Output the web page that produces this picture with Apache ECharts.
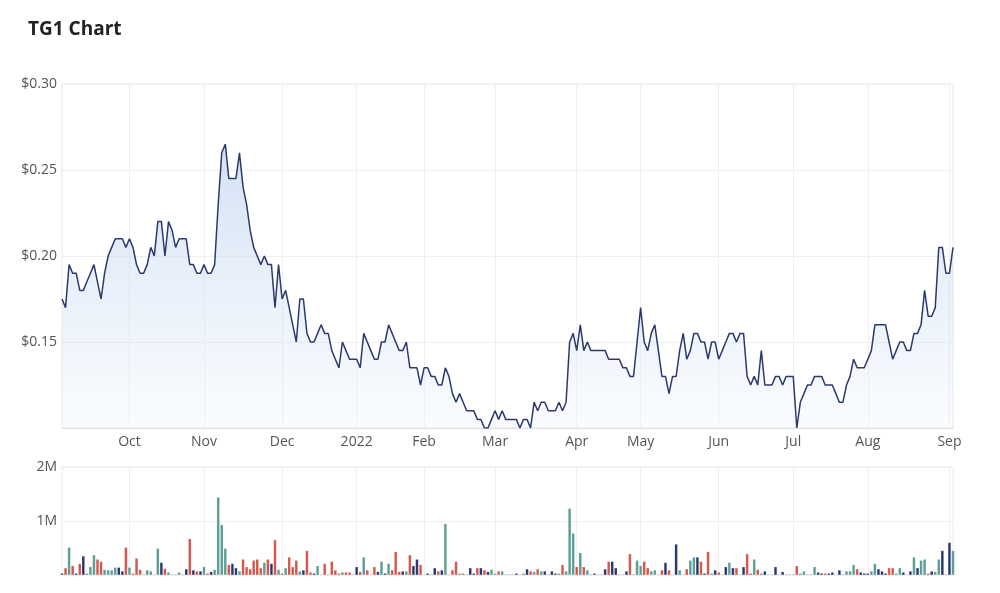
<!DOCTYPE html>
<html>
<head>
<meta charset="utf-8">
<title>TG1 Chart</title>
<script src="https://cdn.jsdelivr.net/npm/echarts@6/dist/echarts.min.js"></script>
<style>
  html, body { margin: 0; padding: 0; background: #fff; }
  #chart { width: 1000px; height: 593px; }
</style>
</head>
<body>
<div id="chart"></div>
<script>
// label for the first trading day of each month ('' = partial first month, no label)
const monthLabels = ['', 'Oct', 'Nov', 'Dec', '2022', 'Feb', 'Mar', 'Apr', 'May', 'Jun', 'Jul', 'Aug', 'Sep'];

// daily closes, one row per month
const closes = [
  [0.175, 0.17, 0.195, 0.19, 0.19, 0.18, 0.18, 0.185, 0.19, 0.195, 0.185, 0.175, 0.19, 0.20, 0.205, 0.21, 0.21, 0.21, 0.205],
  [0.21, 0.205, 0.195, 0.19, 0.19, 0.195, 0.205, 0.20, 0.22, 0.22, 0.20, 0.22, 0.215, 0.205, 0.21, 0.21, 0.21, 0.195, 0.195, 0.19, 0.19],
  [0.195, 0.19, 0.19, 0.195, 0.23, 0.26, 0.265, 0.245, 0.245, 0.245, 0.26, 0.24, 0.23, 0.215, 0.205, 0.20, 0.195, 0.20, 0.195, 0.195, 0.17, 0.195],
  [0.175, 0.18, 0.17, 0.16, 0.15, 0.175, 0.175, 0.155, 0.15, 0.15, 0.155, 0.16, 0.155, 0.155, 0.145, 0.14, 0.135, 0.15, 0.145, 0.14, 0.14],
  [0.14, 0.135, 0.155, 0.15, 0.145, 0.14, 0.14, 0.15, 0.15, 0.16, 0.155, 0.15, 0.145, 0.145, 0.15, 0.135, 0.135, 0.135, 0.125],
  [0.135, 0.135, 0.13, 0.13, 0.125, 0.125, 0.135, 0.13, 0.12, 0.115, 0.12, 0.115, 0.11, 0.11, 0.11, 0.105, 0.105, 0.10, 0.10, 0.105],
  [0.11, 0.105, 0.11, 0.105, 0.105, 0.105, 0.105, 0.10, 0.105, 0.105, 0.10, 0.115, 0.11, 0.115, 0.115, 0.11, 0.11, 0.11, 0.115, 0.11, 0.115, 0.15, 0.155],
  [0.145, 0.16, 0.145, 0.15, 0.145, 0.145, 0.145, 0.145, 0.145, 0.14, 0.14, 0.14, 0.14, 0.135, 0.135, 0.13, 0.13, 0.15],
  [0.17, 0.15, 0.145, 0.155, 0.16, 0.145, 0.13, 0.13, 0.12, 0.13, 0.13, 0.145, 0.155, 0.14, 0.145, 0.155, 0.155, 0.15, 0.15, 0.14, 0.15, 0.15],
  [0.14, 0.145, 0.15, 0.155, 0.155, 0.15, 0.155, 0.155, 0.13, 0.125, 0.13, 0.125, 0.145, 0.125, 0.125, 0.125, 0.13, 0.13, 0.125, 0.13, 0.13],
  [0.13, 0.10, 0.115, 0.12, 0.125, 0.125, 0.13, 0.13, 0.13, 0.125, 0.125, 0.125, 0.12, 0.115, 0.115, 0.125, 0.13, 0.14, 0.135, 0.135, 0.135],
  [0.14, 0.145, 0.16, 0.16, 0.16, 0.16, 0.15, 0.14, 0.145, 0.15, 0.15, 0.145, 0.145, 0.155, 0.155, 0.16, 0.18, 0.165, 0.165, 0.17, 0.205, 0.205, 0.19],
  [0.19, 0.205]
];

// daily volume in millions of shares
const volumes = [
  [0.03, 0.13, 0.51, 0.17, 0.03, 0.21, 0.35, 0.03, 0.15, 0.37, 0.29, 0.25, 0.10, 0.09, 0.09, 0.14, 0.14, 0.07, 0.51],
  [0.14, 0.03, 0.31, 0.10, 0.01, 0.09, 0.07, 0.01, 0.49, 0.23, 0.12, 0.05, 0.01, 0.01, 0.05, 0.01, 0.11, 0.67, 0.09, 0.07, 0.07],
  [0.15, 0.03, 0.06, 0.10, 1.44, 0.93, 0.49, 0.19, 0.21, 0.13, 0.07, 0.29, 0.15, 0.11, 0.27, 0.29, 0.13, 0.23, 0.29, 0.21, 0.65, 0.10],
  [0.03, 0.13, 0.33, 0.15, 0.27, 0.07, 0.09, 0.45, 0.05, 0.03, 0.17, 0.01, 0.21, 0.01, 0.25, 0.09, 0.03, 0.05, 0.05, 0.05, 0.01],
  [0.15, 0.06, 0.33, 0.09, 0.01, 0.15, 0.06, 0.25, 0.03, 0.21, 0.09, 0.43, 0.06, 0.07, 0.07, 0.37, 0.17, 0.29, 0.19],
  [0.01, 0.03, 0.01, 0.13, 0.07, 0.09, 0.95, 0.01, 0.09, 0.25, 0.03, 0.03, 0.01, 0.13, 0.03, 0.13, 0.13, 0.09, 0.06, 0.10],
  [0.03, 0.07, 0.07, 0.01, 0.01, 0.01, 0.03, 0.01, 0.03, 0.11, 0.07, 0.06, 0.11, 0.07, 0.07, 0.01, 0.07, 0.03, 0.03, 0.19, 0.07, 1.23, 0.77],
  [0.15, 0.41, 0.15, 0.09, 0.01, 0.03, 0.01, 0.01, 0.11, 0.25, 0.25, 0.13, 0.01, 0.01, 0.07, 0.39, 0.01, 0.27],
  [0.17, 0.25, 0.13, 0.07, 0.09, 0.01, 0.09, 0.23, 0.09, 0.01, 0.57, 0.09, 0.01, 0.11, 0.27, 0.33, 0.33, 0.25, 0.03, 0.43, 0.03, 0.09],
  [0.05, 0.01, 0.15, 0.23, 0.13, 0.13, 0.01, 0.15, 0.39, 0.03, 0.29, 0.10, 0.03, 0.07, 0.01, 0.01, 0.15, 0.01, 0.06, 0.01, 0.01],
  [0.01, 0.17, 0.03, 0.07, 0.01, 0.01, 0.15, 0.05, 0.03, 0.03, 0.03, 0.05, 0.01, 0.09, 0.01, 0.07, 0.07, 0.19, 0.11, 0.05, 0.03],
  [0.03, 0.07, 0.21, 0.11, 0.07, 0.03, 0.13, 0.13, 0.03, 0.13, 0.05, 0.01, 0.07, 0.33, 0.13, 0.27, 0.29, 0.03, 0.07, 0.06, 0.29, 0.45, 0.01],
  [0.60, 0.45]
];

// bar colour per day: u = up, d = down, n = unchanged
const volumeMoves = [
  'ndudndnuuudduuuunnd',
  'udddnuudundunnunndndn',
  'udnuuuudnnuddddddudndu',
  'dudddunddnuudnddduddn',
  'ndudddnunudddnudnnd',
  'dnnndnudddudnnndndnu',
  'udunnnndundudunnnnuduuu',
  'dudunnnnndnnnnndnu',
  'udduuddndunuuduundndun',
  'dunundunddudunuundnn',
  'nduunnunndnnnnnuuudnn',
  'nuunnndduundnunuudnuunn',
  'nu'
];

const moveColours = { u: '#5b9d93', d: '#d4554a', n: '#27356d' };

const categories = [];
const priceData = [];
const volumeData = [];
monthLabels.forEach((label, m) => {
  closes[m].forEach((p, k) => {
    categories.push(label + '|' + k + '|' + m);
    priceData.push(p);
    volumeData.push({
      value: volumes[m][k],
      itemStyle: { color: moveColours[volumeMoves[m][k]] || moveColours.n }
    });
  });
});

function isMonthStart(index, value) {
  const parts = value.split('|');
  return parts[1] === '0' && parts[0] !== '';
}

const font = '"Open Sans", "Noto Sans", sans-serif';
const gridLine = { show: true, lineStyle: { color: '#efefef', width: 1 } };

const chart = echarts.init(document.getElementById('chart'));
chart.setOption({
  animation: false,
  backgroundColor: '#fff',
  textStyle: { fontFamily: font },
  title: {
    text: 'TG1 Chart',
    left: 23,
    top: 15,
    textStyle: { fontFamily: font, fontSize: 19, fontWeight: 'bold', color: '#222' }
  },
  grid: [
    { left: 62, right: 47, top: 84, height: 344, show: true, borderColor: '#e6e6e6', borderWidth: 1 },
    { left: 62, right: 47, top: 467, height: 108, show: true, borderColor: '#ececec', borderWidth: 1 }
  ],
  xAxis: [
    {
      type: 'category',
      gridIndex: 0,
      data: categories,
      boundaryGap: false,
      axisLine: { show: true, lineStyle: { color: '#e0e0e0' } },
      axisTick: { show: false },
      axisLabel: {
        interval: isMonthStart,
        margin: 7,
        fontSize: 14,
        color: '#555',
        fontFamily: font,
        formatter: v => v.split('|')[0]
      },
      splitLine: { show: true, interval: isMonthStart, lineStyle: { color: '#efefef' } }
    },
    {
      type: 'category',
      gridIndex: 1,
      data: categories,
      boundaryGap: false,
      axisLine: { show: false },
      axisTick: { show: false },
      axisLabel: { show: false },
      splitLine: { show: true, interval: isMonthStart, lineStyle: { color: '#efefef' } }
    }
  ],
  yAxis: [
    {
      type: 'value',
      gridIndex: 0,
      min: 0.10,
      max: 0.30,
      interval: 0.05,
      axisLine: { show: false },
      axisTick: { show: false },
      axisLabel: {
        margin: 5,
        fontSize: 14,
        color: '#555',
        fontFamily: font,
        formatter: v => (v <= 0.1001 ? '' : '$' + v.toFixed(2))
      },
      splitLine: gridLine
    },
    {
      type: 'value',
      gridIndex: 1,
      min: 0,
      max: 2,
      interval: 1,
      axisLine: { show: false },
      axisTick: { show: false },
      axisLabel: {
        margin: 5,
        fontSize: 14,
        color: '#555',
        fontFamily: font,
        formatter: v => (v === 0 ? '' : v + 'M')
      },
      splitLine: gridLine
    }
  ],
  series: [
    {
      name: 'Price',
      type: 'line',
      xAxisIndex: 0,
      yAxisIndex: 0,
      data: priceData,
      symbol: 'none',
      smooth: false,
      lineStyle: { color: '#2b3a6e', width: 1.5 },
      areaStyle: {
        color: new echarts.graphic.LinearGradient(0, 0, 0, 1, [
          { offset: 0, color: 'rgba(165, 195, 233, 0.7)' },
          { offset: 1, color: 'rgba(240, 245, 252, 0.5)' }
        ])
      }
    },
    {
      name: 'Volume',
      type: 'bar',
      xAxisIndex: 1,
      yAxisIndex: 1,
      data: volumeData,
      barWidth: 2.8,
      itemStyle: { borderColor: 'rgba(255,255,255,0.35)', borderWidth: 0.3 }
    }
  ]
});
</script>
</body>
</html>
